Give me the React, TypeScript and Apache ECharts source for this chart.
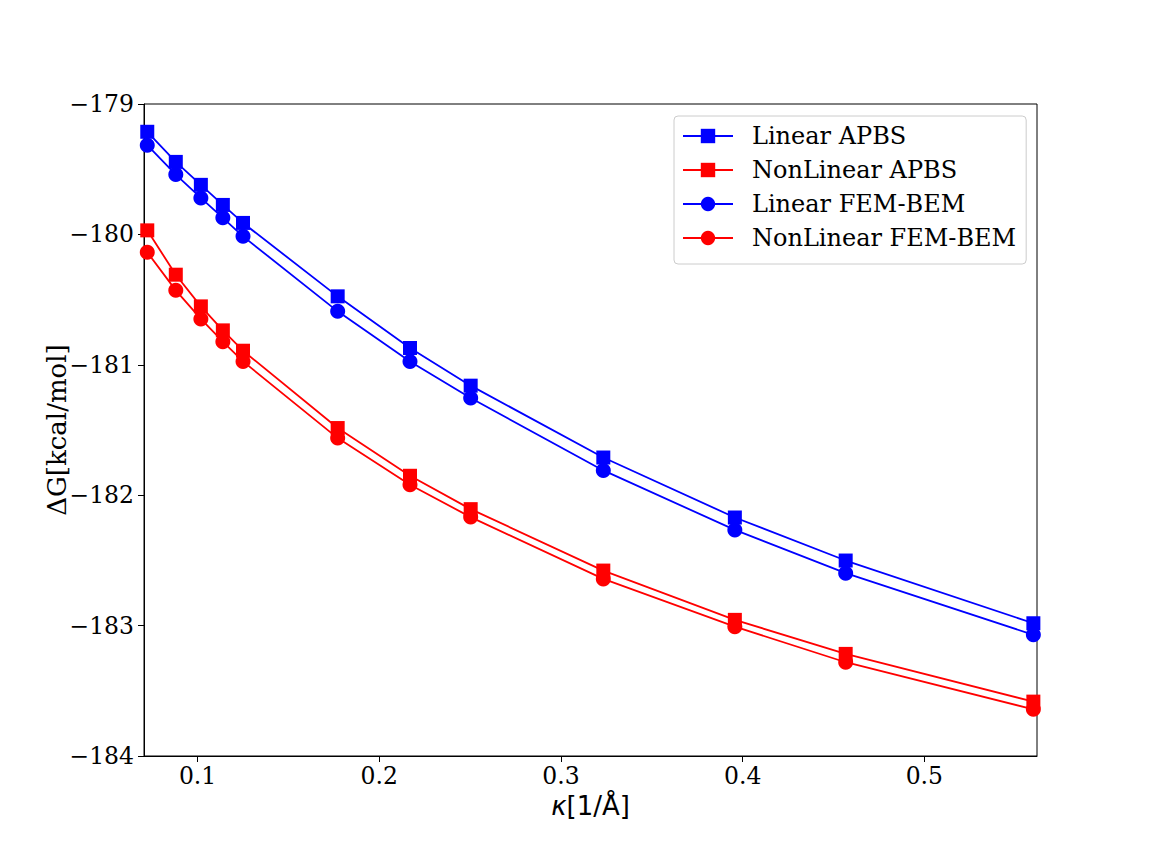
import React, { useEffect, useRef } from "react";
import * as echarts from "echarts";

const kappa = [0.0723, 0.088, 0.1018, 0.1139, 0.125, 0.1771, 0.2169, 0.2503, 0.3233, 0.3957, 0.4567, 0.56];
const linearAPBS = [-179.213, -179.444, -179.62, -179.774, -179.912, -180.475, -180.871, -181.16, -181.711, -182.171, -182.501, -182.982];
const nonLinearAPBS = [-179.969, -180.309, -180.552, -180.736, -180.892, -181.485, -181.851, -182.107, -182.578, -182.956, -183.217, -183.583];
const linearFEMBEM = [-179.316, -179.541, -179.72, -179.873, -180.015, -180.59, -180.974, -181.255, -181.81, -182.266, -182.598, -183.071];
const nonLinearFEMBEM = [-180.137, -180.429, -180.648, -180.823, -180.974, -181.562, -181.92, -182.168, -182.642, -183.008, -183.281, -183.642];
const seriesNames = ["Linear APBS", "NonLinear APBS", "Linear FEM-BEM", "NonLinear FEM-BEM"];

const SERIF = "DejaVu Serif";
const SANS = "DejaVu Sans";

export default function App() {
  const ref = useRef<HTMLDivElement>(null);
  useEffect(() => {
    if (!ref.current) return;
    const chart = echarts.init(ref.current, undefined, { renderer: "svg" });
    const mk = (name: string, vals: number[], color: string, symbol: string, size: number) => ({
      name,
      type: "line",
      data: kappa.map((k, i) => [k, vals[i]]),
      symbol,
      symbolSize: size,
      showAllSymbol: true,
      clip: true,
      lineStyle: { color, width: 1.8 },
      itemStyle: { color },
      emphasis: { disabled: true },
    });
    chart.setOption({
      animation: false,
      backgroundColor: "#ffffff",
      grid: {
        left: 144,
        right: 115,
        top: 104,
        bottom: 108,
        show: true,
        borderColor: "#000",
        borderWidth: 1,
        backgroundColor: "transparent",
      },
      legend: {
        orient: "vertical",
        left: 674,
        top: 116,
        itemWidth: 50,
        itemHeight: 18,
        itemGap: 10,
        padding: [8, 10, 14, 8],
        borderColor: "#cccccc",
        borderWidth: 1,
        borderRadius: 4,
        backgroundColor: "rgba(255,255,255,0.8)",
        textStyle: { fontFamily: SERIF, fontSize: 24, color: "#000", padding: [0, 0, 0, 14] },
        data: seriesNames,
      },
      xAxis: {
        type: "value",
        min: 0.0705,
        max: 0.562,
        splitNumber: 5,
        name: "{i|κ}{n|[1/Å]}",
        nameLocation: "middle",
        nameGap: 36,
        nameTextStyle: {
          rich: {
            i: { fontFamily: SANS, fontStyle: "italic", fontSize: 26, color: "#000" },
            n: { fontFamily: SANS, fontSize: 26, color: "#000" },
          },
        },
        axisLine: { show: true, lineStyle: { color: "#000", width: 1 } },
        axisTick: { show: true, length: 6, lineStyle: { color: "#000" } },
        axisLabel: {
          showMinLabel: false,
          showMaxLabel: false,
          margin: 8,
          fontFamily: SERIF,
          fontSize: 23.5,
          color: "#000",
          formatter: (v: number) => String(+v.toFixed(1)),
        },
        splitLine: { show: false },
      },
      yAxis: {
        type: "value",
        min: -184,
        max: -179,
        interval: 1,
        name: "ΔG[kcal/mol]",
        nameLocation: "middle",
        nameGap: 74,
        nameMoveOverlap: false,
        nameTextStyle: { fontFamily: SERIF, fontSize: 26, color: "#000" },
        axisLine: { show: true, lineStyle: { color: "#000", width: 1 } },
        axisTick: { show: true, length: 6, lineStyle: { color: "#000" } },
        axisLabel: {
          margin: 10,
          fontFamily: SERIF,
          fontSize: 23.5,
          color: "#000",
          formatter: (v: number) => (v < 0 ? "\u2212" : "") + Math.abs(v),
        },
        splitLine: { show: false },
      },
      series: [
        mk(seriesNames[0], linearAPBS, "#0000ff", "rect", 14),
        mk(seriesNames[1], nonLinearAPBS, "#ff0000", "rect", 14),
        mk(seriesNames[2], linearFEMBEM, "#0000ff", "circle", 15),
        mk(seriesNames[3], nonLinearFEMBEM, "#ff0000", "circle", 15),
      ],
    });
    return () => chart.dispose();
  }, []);
  return <div ref={ref} style={{ width: 1152, height: 864, position: "absolute", left: 0, top: 0 }} />;
}
